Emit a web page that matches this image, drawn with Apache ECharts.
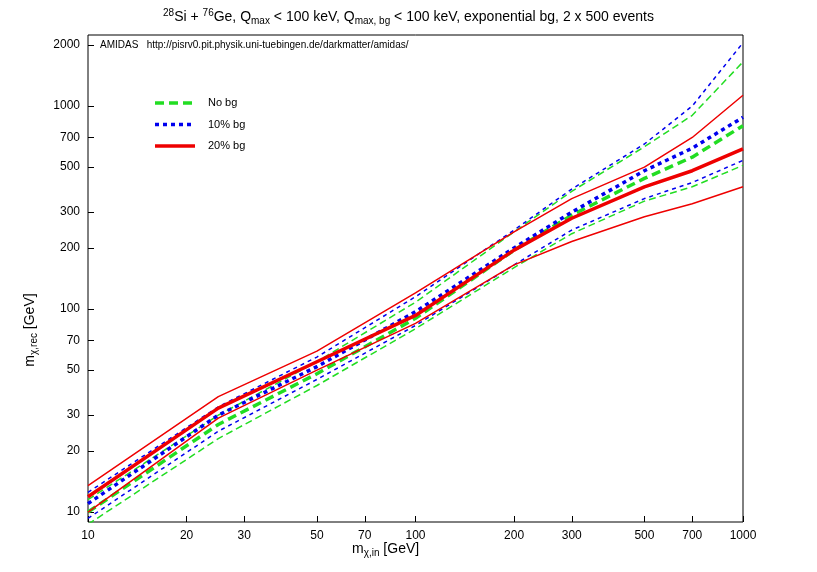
<!DOCTYPE html>
<html><head><meta charset="utf-8">
<script src="https://cdn.jsdelivr.net/npm/echarts@6/dist/echarts.min.js"></script>
<style>html,body{margin:0;padding:0;background:#fff}#c{width:817px;height:572px}</style>
</head><body><div id="c"></div>
<script>
const xIn = [10, 25, 50, 100, 200, 300, 500, 700, 1000];
const noBgMid = [10, 27, 48, 90, 195, 290, 440, 560, 800];
const noBgUp  = [11.5, 30, 55, 108, 240, 380, 630, 900, 1650];
const noBgLo  = [8.7, 23, 42, 80, 160, 235, 340, 400, 510];
const bg10Mid = [11, 30, 52, 97, 200, 300, 480, 620, 880];
const bg10Up  = [12.5, 33, 58, 115, 245, 390, 650, 1000, 2050];
const bg10Lo  = [9.3, 25, 45, 83, 165, 245, 350, 420, 540];
const bg20Mid = [11.9, 32.5, 55, 93, 195, 280, 400, 480, 615];
const bg20Up  = [13.5, 37, 62, 120, 240, 350, 500, 700, 1130];
const bg20Lo  = [10, 29, 50, 85, 165, 215, 285, 330, 400];
const xTicks = [10, 20, 30, 50, 70, 100, 200, 300, 500, 700, 1000];
const yTicks = [10, 20, 30, 50, 70, 100, 200, 300, 500, 700, 1000, 2000];
const legendNames = ['No bg', '10% bg', '20% bg'];

const L = Math.log10;
const pts = ys => xIn.map((x, i) => [L(x), L(ys[i])]);
const font = 'Liberation Sans';
function s(ys, color, type, w) {
  return { type: 'line', data: pts(ys), symbol: 'none', silent: true,
    lineStyle: { color: color, type: type, width: w } };
}
const G = '#22dd22', B = '#0000ee', R = '#ee0000';
const styles = [[G, [9, 5]], [B, [4, 4]], [R, 'solid']];
const legendG = [];
legendNames.forEach((n, i) => {
  const y = 103 + i * 21.5;
  legendG.push({ type: 'line', shape: { x1: 155, y1: y, x2: 195, y2: y },
    style: { stroke: styles[i][0], lineWidth: 3.5, lineDash: styles[i][1] === 'solid' ? null : styles[i][1] } });
  legendG.push({ type: 'text', x: 208, y: y, style: { text: n, fontFamily: font, fontSize: 11, fill: '#000', verticalAlign: 'middle' } });
});
const chart = echarts.init(document.getElementById('c'));
chart.setOption({
  animation: false,
  grid: { left: 88, right: 74, top: 35, bottom: 50, show: true, borderColor: '#000', borderWidth: 1 },
  xAxis: { type: 'value', min: 1, max: 3, splitLine: { show: false },
    axisLine: { show: false },
    axisTick: { inside: true, length: 6, customValues: xTicks.map(L), lineStyle: { color: '#000' } },
    axisLabel: { customValues: xTicks.map(L), formatter: v => String(Math.round(Math.pow(10, v))),
      fontFamily: font, fontSize: 12, color: '#000', margin: 8 } },
  yAxis: { type: 'value', min: L(8.93), max: L(2238), splitLine: { show: false },
    axisLine: { show: false },
    axisTick: { inside: true, length: 6, customValues: yTicks.map(L), lineStyle: { color: '#000' } },
    axisLabel: { customValues: yTicks.map(L), formatter: v => String(Math.round(Math.pow(10, v))),
      fontFamily: font, fontSize: 12, color: '#000', margin: 8 } },
  series: [
    s(noBgMid, G, [9, 5], 3.5),
    s(noBgUp, G, [7, 4], 1.5),
    s(noBgLo, G, [7, 4], 1.5),
    s(bg10Mid, B, [4, 4], 3.5),
    s(bg10Up, B, [4, 4], 1.5),
    s(bg10Lo, B, [4, 4], 1.5),
    s(bg20Mid, R, 'solid', 3.5),
    s(bg20Up, R, 'solid', 1.5),
    s(bg20Lo, R, 'solid', 1.5)
  ],
  graphic: legendG.concat([
    { type: 'text', left: 'center', top: 8, style: { fontFamily: font, fontSize: 14, fill: '#000',
      text: '{sup|28}Si + {sup|76}Ge, Q{sub|max} < 100 keV, Q{sub|max, bg} < 100 keV, exponential bg, 2 x 500 events',
      rich: { sup: { fontSize: 10, verticalAlign: 'top', padding: [0, 0, 8, 0] }, sub: { fontSize: 10, padding: [8, 0, 0, 0] } } } },
    { type: 'text', left: 100, top: 40, style: { fontFamily: font, fontSize: 10, fill: '#000',
      text: 'AMIDAS   http://pisrv0.pit.physik.uni-tuebingen.de/darkmatter/amidas/' } },
    { type: 'text', left: 352, top: 542, style: { fontFamily: font, fontSize: 14, fill: '#000',
      text: 'm{sub|χ,in} [GeV]', rich: { sub: { fontSize: 10, padding: [8, 0, 0, 0] } } } },
    { type: 'text', x: 30, y: 330, rotation: Math.PI / 2, style: { fontFamily: font, fontSize: 14, fill: '#000',
      text: 'm{sub|χ,rec} [GeV]', align: 'center', verticalAlign: 'middle', rich: { sub: { fontSize: 10, padding: [8, 0, 0, 0] } } } }
  ])
});
</script></body></html>
